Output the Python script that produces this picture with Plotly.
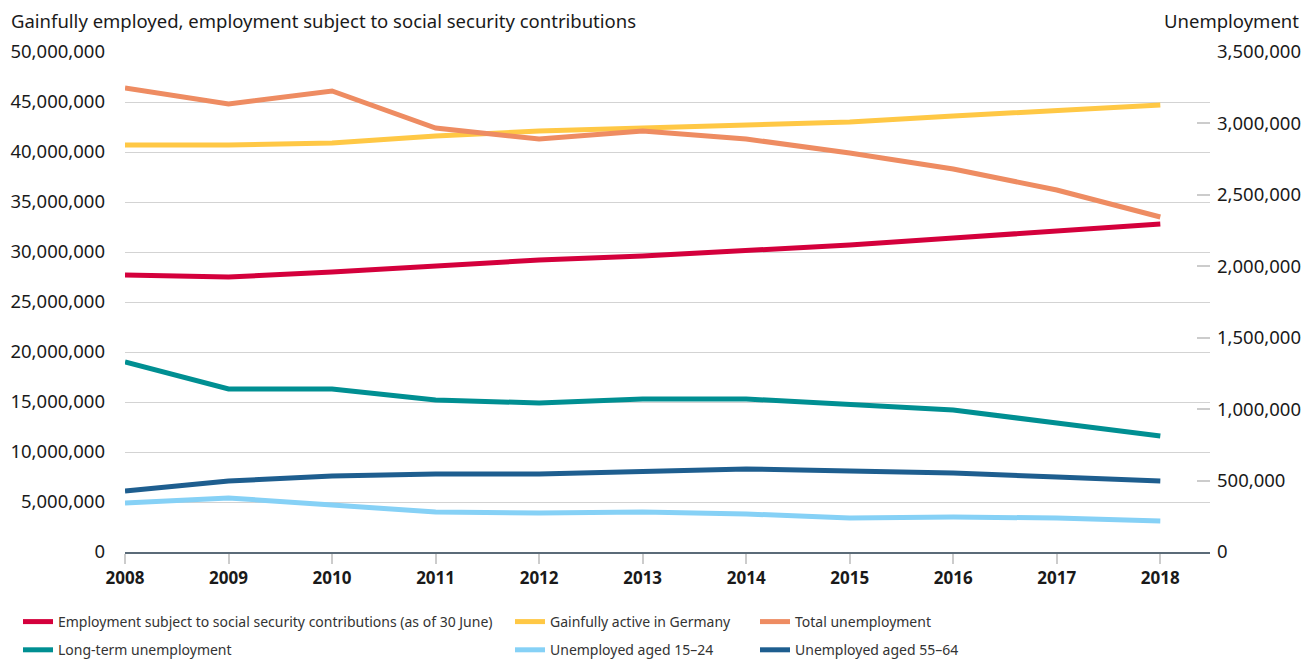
import plotly.graph_objects as go

years = [2008, 2009, 2010, 2011, 2012, 2013, 2014, 2015, 2016, 2017, 2018]

employment_ssc = [27.7e6, 27.5e6, 28.0e6, 28.6e6, 29.2e6, 29.6e6, 30.1e6, 30.7e6, 31.4e6, 32.1e6, 32.8e6]
gainfully_active = [40.7e6, 40.7e6, 40.9e6, 41.6e6, 42.1e6, 42.4e6, 42.6e6, 43.0e6, 43.6e6, 44.2e6, 44.7e6]

total_unemployment = [3248000, 3136000, 3227000, 2968000, 2891000, 2947000, 2891000, 2793000, 2681000, 2534000, 2345000]
long_term = [1330000, 1141000, 1141000, 1064000, 1043000, 1071000, 1071000, 1036000, 994000, 903000, 812000]
aged_15_24 = [343000, 378000, 329000, 280000, 273000, 280000, 266000, 238000, 245000, 238000, 217000]
aged_55_64 = [427000, 497000, 532000, 546000, 546000, 567000, 581000, 567000, 553000, 525000, 497000]

left_ticks = list(range(0, 50000001, 5000000))
right_ticks = list(range(0, 3500001, 500000))

FONT = "Noto Sans"
TXT = "#1a1a1a"

series = [
    ("Employment subject to social security contributions (as of 30 June)", employment_ssc, "#d4003c", "y", "legend"),
    ("Gainfully active in Germany", gainfully_active, "#ffc845", "y", "legend2"),
    ("Total unemployment", total_unemployment, "#ee8c62", "y2", "legend3"),
    ("Long-term unemployment", long_term, "#008f92", "y2", "legend"),
    ("Unemployed aged 15\u201324", aged_15_24, "#86d1f6", "y2", "legend2"),
    ("Unemployed aged 55\u201364", aged_55_64, "#1e5e8f", "y2", "legend3"),
]

fig = go.Figure()
for i, (name, vals, color, ax, leg) in enumerate(series):
    fig.add_trace(go.Scatter(
        x=years, y=vals, name=name, mode="lines", yaxis=ax, legend=leg,
        legendgroup=f"g{i}",
        line=dict(color=color, width=5),
    ))

PW = 1085.0
PH = 500.0


def px_x(p):
    return (p - 125) / PW


def px_y(p):
    return (552 - p) / PH


legend_common = dict(
    orientation="v", yanchor="top", xanchor="left", bgcolor="rgba(0,0,0,0)",
    font=dict(family=FONT, size=14, color="#333"), tracegroupgap=7,
    itemwidth=30,
)

fig.update_layout(
    width=1313, height=659,
    margin=dict(l=125, r=103, t=52, b=107, autoexpand=False),
    plot_bgcolor="white", paper_bgcolor="white",
    font=dict(family=FONT, size=18, color=TXT),
    xaxis=dict(
        range=[2008, 2018.48], tickvals=years, ticktext=[str(y) for y in years],
        showgrid=False, zeroline=False,
        showline=True, linecolor="#5b6b78", linewidth=1.5,
        ticks="outside", ticklen=10, tickcolor="#cccccc", tickwidth=1.5,
        tickfont=dict(family=FONT, size=17, color=TXT, weight="bold"),
    ),
    yaxis=dict(
        range=[0, 50000000], tickvals=left_ticks, tickformat=",d",
        showgrid=True, gridcolor="#d3d3d3", gridwidth=1, zeroline=False,
        ticks="", ticklabelstandoff=19,
        tickfont=dict(family=FONT, size=18.5, color=TXT),
    ),
    yaxis2=dict(
        range=[0, 3500000], tickvals=right_ticks, tickformat=",d",
        overlaying="y", side="right", showgrid=False, zeroline=False,
        ticks="inside", ticklen=13, tickcolor="#cccccc", tickwidth=1.5,
        ticklabelstandoff=6,
        tickfont=dict(family=FONT, size=18.5, color=TXT),
    ),
    legend=dict(x=px_x(18), y=px_y(606), **legend_common),
    legend2=dict(x=px_x(510), y=px_y(606), **legend_common),
    legend3=dict(x=px_x(755), y=px_y(606), **legend_common),
    annotations=[
        dict(text="Gainfully employed, employment subject to social security contributions",
             xref="paper", yref="paper", x=px_x(9), y=px_y(21), xanchor="left", yanchor="middle",
             showarrow=False, font=dict(family=FONT, size=18.5, color=TXT)),
        dict(text="Unemployment",
             xref="paper", yref="paper", x=px_x(1301), y=px_y(21), xanchor="right", yanchor="middle",
             showarrow=False, font=dict(family=FONT, size=18.5, color=TXT)),
    ],
    showlegend=True,
)

fig.write_html("out.html")
